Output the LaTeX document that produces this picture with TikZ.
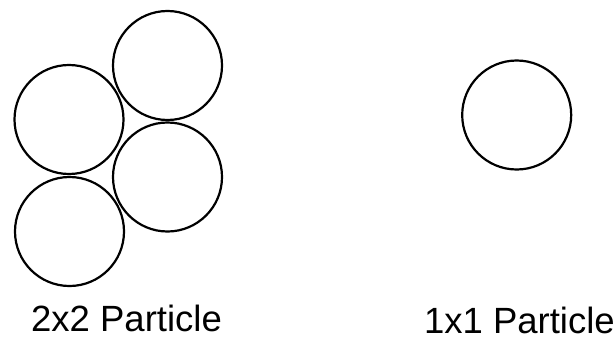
\documentclass[tikz,border=0pt]{standalone}
\usepackage{fontspec}
\setmainfont{Liberation Sans}
\usetikzlibrary{positioning}

\begin{document}
\begin{tikzpicture}[x=1pt,y=-1pt]
\tikzset{ball/.style={circle,draw=black,line width=2.2pt,minimum size=109pt,inner sep=0pt},tag/.style={inner sep=0pt,anchor=base west,font=\fontsize{36.5}{44}\selectfont}}
\useasboundingbox (0,0) rectangle (615,337);
\node[ball] (top) at (167.5,65.5) {};
\node[ball] (left) at (69,119.5) {};
\node[ball] (right) at (167.5,177) {};
\node[ball] (low) at (69.5,231.5) {};
\node[ball] (one) at (516.7,115) {};
\node[tag] (twolbl) at (31,331.5) {2x2 Particle};
\node[tag,anchor=base east] (onelbl) at (615,333) {1x1 Particle};
\end{tikzpicture}
\end{document}
